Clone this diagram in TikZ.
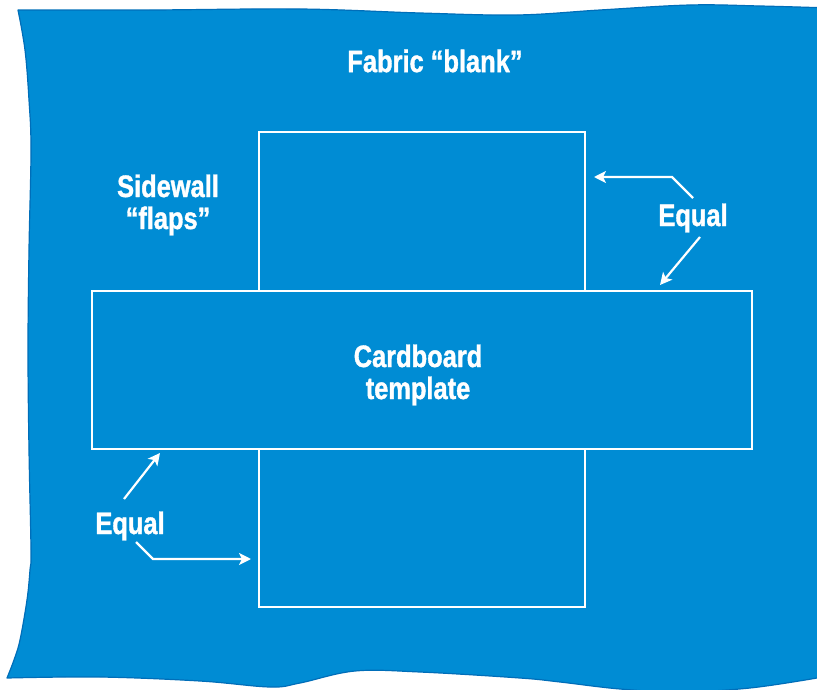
\documentclass[tikz,border=0pt]{standalone}
\usepackage{fontspec}
\newfontfamily\labelfont[FakeStretch=0.82, FakeBold=1.2]{Liberation Sans}
\usetikzlibrary{arrows.meta}
\definecolor{fabricblue}{RGB}{0,140,212}
\definecolor{fabricedge}{RGB}{0,110,185}

\begin{document}
\begin{tikzpicture}[x=1pt,y=-1pt,
  panel/.style={draw=white, line width=2.6pt, inner sep=0pt, outer sep=0pt},
  caption/.style={text=white, font=\labelfont\bfseries\fontsize{31}{32}\selectfont, align=center, inner sep=0pt},
  pointer/.style={draw=white, line width=2.2pt, line join=miter,
    -{Stealth[length=12pt,width=12pt,inset=3pt]}}]
\useasboundingbox (0,0) rectangle (817,690);
\clip (0,0) rectangle (817,690);

% the piece of fabric, with its ragged edges
\filldraw[fill=fabricblue, draw=fabricedge, line width=1.2pt, line join=round]
  plot[smooth, tension=0.6] coordinates {(18,10) (150,10) (300,9) (420,13) (517,15) (600,10) (690,5) (760,6) (830,8)}
  -- (830,676)
  -- plot[smooth, tension=0.6] coordinates {(817,678) (750,688) (680,692) (620,689) (560,682) (520,678) (420,672) (355,671) (300,683) (270,687) (200,681) (100,677) (7,678)}
  -- plot[smooth, tension=0.6] coordinates {(7,678) (14,660) (20,640) (27,600) (30,570) (31,550) (29,450) (28,350) (29,250) (31,150) (29,100) (25,50) (18,10)}
  -- cycle;

% cardboard template: base and four sidewall flaps
\node[panel, minimum width=326pt, minimum height=159pt] (flaptop) at (422,211.5) {};
\node[panel, minimum width=660pt, minimum height=158pt] (base) at (422,370) {};
\node[panel, minimum width=326pt, minimum height=158pt] (flapbottom) at (422,528) {};

% labels
\node[caption] (title) at (435,61) {Fabric “blank”};
\node[caption] (flaps) at (168,205) {Sidewall\\“flaps”};
\node[caption] (card) at (418,375) {Cardboard\\template};
\node[caption] (equalR) at (693,218) {Equal};
\node[caption] (equalL) at (130,526) {Equal};

% arrow end points
\coordinate (rA0) at (693,198);
\coordinate (rA1) at (672,177);
\coordinate (rA2) at (594,177);
\coordinate (rB0) at (700,237);
\coordinate (rB1) at (660,285);
\coordinate (lA0) at (124,499);
\coordinate (lA1) at (160,453);
\coordinate (lB0) at (136,542);
\coordinate (lB1) at (153,559);
\coordinate (lB2) at (251,559);

\draw[pointer] (rA0) -- (rA1) -- (rA2);
\draw[pointer] (rB0) -- (rB1);
\draw[pointer] (lA0) -- (lA1);
\draw[pointer] (lB0) -- (lB1) -- (lB2);
\end{tikzpicture}
\end{document}
